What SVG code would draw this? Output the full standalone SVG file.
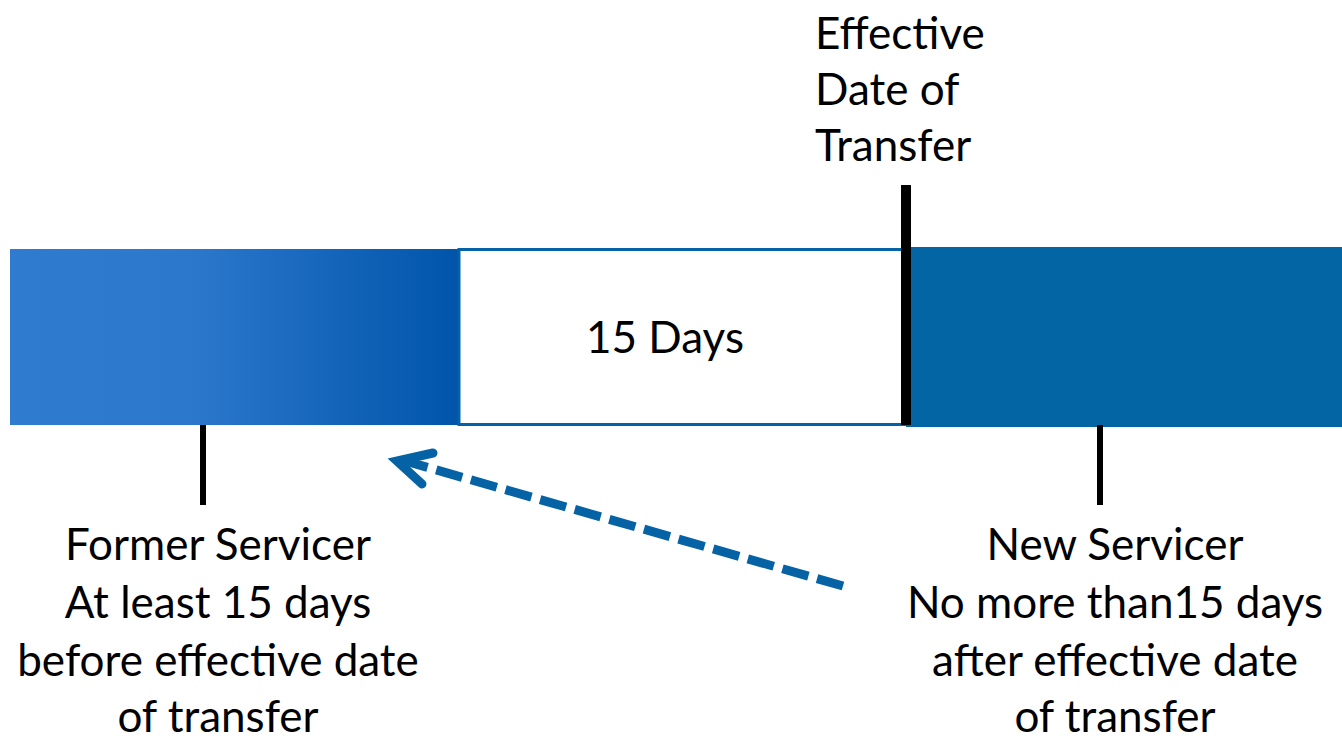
<svg xmlns="http://www.w3.org/2000/svg" width="1342" height="739" viewBox="0 0 1342 739">
  <style>
    .lbl { font-family: "Lato", "Open Sans", "Liberation Sans", sans-serif; font-size: 44px; fill: #000; }
    .mid { text-anchor: middle; }
    .tick { stroke: #000; stroke-width: 6; }
  </style>
  <defs>
    <linearGradient id="former" x1="10" y1="0" x2="458" y2="0" gradientUnits="userSpaceOnUse">
      <stop offset="0" stop-color="#2F7BD0"/>
      <stop offset="0.4" stop-color="#2C78CD"/>
      <stop offset="1" stop-color="#0055AA"/>
    </linearGradient>
  </defs>

  <!-- timeline bars -->
  <g id="former-period">
    <rect x="10" y="249" width="449" height="176" fill="url(#former)"/>
  </g>
  <g id="notice-window">
    <rect x="459" y="249.5" width="447" height="175" fill="#fff" stroke="#0563A5" stroke-width="3"/>
    <text class="lbl mid" x="665" y="353">15 Days</text>
  </g>
  <g id="new-period">
    <rect x="906" y="247" width="436" height="180" fill="#0365A3"/>
  </g>

  <!-- effective date marker -->
  <g id="effective-date">
    <line x1="906" y1="185" x2="906" y2="425" stroke="#000" stroke-width="10"/>
    <text class="lbl" x="815" y="49">Effective</text>
    <text class="lbl" x="815" y="105">Date of</text>
    <text class="lbl" x="815" y="161">Transfer</text>
  </g>

  <g id="former-servicer">
    <line class="tick" x1="203" y1="425" x2="203" y2="505"/>
    <text class="lbl mid" x="218" y="560">Former Servicer</text>
    <text class="lbl mid" x="218" y="618">At least 15 days</text>
    <text class="lbl mid" x="218" y="676">before effective date</text>
    <text class="lbl mid" x="218" y="732">of transfer</text>
  </g>

  <g id="new-servicer">
    <line class="tick" x1="1100" y1="425" x2="1100" y2="505"/>
    <text class="lbl mid" x="1115" y="560">New Servicer</text>
    <text class="lbl mid" x="1115" y="618">No more than15 days</text>
    <text class="lbl mid" x="1115" y="676">after effective date</text>
    <text class="lbl mid" x="1115" y="732">of transfer</text>
  </g>

  <!-- connectors -->
  <g id="connectors" stroke="#0563A5" fill="none">
    <line x1="843" y1="586" x2="405" y2="461" stroke-width="9" stroke-dasharray="27 9"/>
    <polyline points="433,453 397,461 422,484" stroke-width="9" stroke-linecap="round" stroke-linejoin="miter"/>
  </g>
</svg>
